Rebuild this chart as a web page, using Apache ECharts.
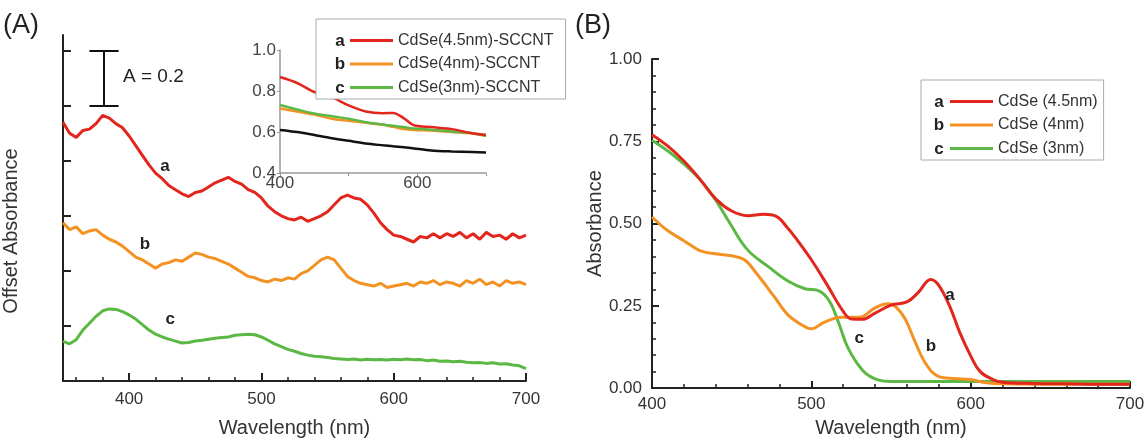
<!DOCTYPE html>
<html><head><meta charset="utf-8">
<script src="https://cdn.jsdelivr.net/npm/echarts@6/dist/echarts.min.js"></script>
<style>html,body{margin:0;padding:0;background:#fff}#c{width:1148px;height:443px}</style>
</head><body><div id="c"></div>
<script>
// ---------- Panel A (offset absorbance, noisy spectra) ----------
const wavelengthA = [350,355,360,365,370,375,380,385,390,395,400,405,410,415,420,425,430,435,440,445,450,455,460,465,470,475,480,485,490,495,500,505,510,515,520,525,530,535,540,545,550,555,560,565,570,575,580,585,590,595,600,605,610,615,620,625,630,635,640,645,650,655,660,665,670,675,680,685,690,695,700];
const offsetA = [.94,.90,.885,.91,.915,.935,.965,.955,.935,.92,.89,.855,.82,.785,.755,.735,.71,.695,.68,.67,.685,.69,.705,.72,.73,.74,.725,.715,.695,.685,.665,.635,.615,.60,.59,.585,.595,.58,.59,.60,.615,.64,.665,.675,.665,.66,.64,.61,.575,.55,.53,.525,.515,.505,.525,.52,.535,.52,.535,.525,.54,.52,.535,.515,.54,.525,.53,.515,.535,.52,.53];
const offsetB = [.575,.55,.56,.535,.545,.55,.53,.515,.505,.49,.47,.45,.44,.425,.41,.425,.43,.44,.435,.45,.465,.46,.45,.445,.435,.425,.41,.395,.38,.375,.365,.36,.37,.365,.375,.37,.39,.40,.42,.44,.45,.44,.41,.38,.365,.355,.35,.345,.355,.34,.345,.35,.355,.345,.36,.355,.365,.35,.36,.355,.345,.365,.355,.37,.35,.36,.345,.365,.355,.36,.35];
const offsetC = [.144,.135,.15,.185,.21,.235,.255,.262,.26,.252,.24,.225,.205,.185,.17,.16,.152,.145,.138,.14,.145,.148,.152,.155,.158,.16,.166,.168,.17,.168,.16,.148,.135,.125,.115,.108,.1,.094,.09,.088,.085,.082,.08,.078,.08,.076,.079,.077,.078,.076,.079,.077,.08,.077,.078,.074,.076,.072,.073,.07,.072,.068,.066,.067,.064,.066,.062,.063,.058,.055,.045];
const namesA = ['CdSe(4.5nm)-SCCNT','CdSe(4nm)-SCCNT','CdSe(3nm)-SCCNT'];
const xMajorA = [400,500,600,700];
const xMinorA = [360,380,420,440,460,480,520,540,560,580,620,640,660,680];
const yTicksA = [0.2,0.4,0.6,0.8,1.0,1.2];

// ---------- Inset ----------
const insetWavelength = [400,425,450,475,500,525,550,565,580,595,620,650,680,700];
const insetA = [.868,.839,.795,.77,.73,.70,.692,.693,.668,.633,.624,.614,.594,.585];
const insetB = [.715,.70,.685,.665,.655,.645,.635,.625,.615,.61,.607,.60,.593,.585];
const insetC = [.732,.71,.69,.677,.665,.648,.637,.63,.624,.617,.611,.603,.594,.58];
const insetBare = [.61,.60,.585,.57,.557,.544,.535,.53,.526,.52,.51,.505,.502,.50];
const insetXLabels = [400,600];
const insetXTicks = [400,500,600,700];

// ---------- Panel B (absorbance) ----------
const wlBa = [400,410,420,430,440,450,460,470,478,485,490,500,510,520,525,532,540,550,560,567,575,580,587,593,600,606,614,620,640,660,680,700];
const absBa = [.77,.735,.69,.635,.575,.538,.524,.528,.522,.487,.457,.39,.313,.233,.21,.209,.228,.252,.262,.29,.33,.312,.247,.171,.098,.05,.026,.018,.014,.013,.012,.012];
const wlBb = [400,410,420,430,440,450,458,466,477,485,494,500,508,519,530,540,548,553,559,565,572,580,590,600,610,620,650,700];
const absBb = [.52,.478,.448,.418,.408,.402,.39,.346,.276,.224,.192,.18,.2,.215,.215,.244,.256,.247,.209,.142,.073,.035,.029,.026,.016,.013,.012,.012];
const wlBc = [400,413,428,439,449,460,473,485,496,504,511,517,523,532,540,550,600,650,700];
const absBc = [.753,.709,.645,.578,.50,.42,.369,.326,.302,.297,.267,.20,.122,.055,.028,.02,.02,.02,.02];
const namesB = ['CdSe (4.5nm)','CdSe (4nm)','CdSe (3nm)'];

const RED = '#e3261d', ORANGE = '#f39223', GREEN = '#5cb845', BLACK = '#111';
const FONT = "'Liberation Sans', Arial, sans-serif";
const TXT = '#333';
const zip = (xs, ys) => xs.map((x, i) => [x, ys[i]]);

function letter(name, coord) {
  return {
    symbol: 'rect', symbolSize: 1, silent: true,
    itemStyle: { color: 'rgba(0,0,0,0)' },
    label: { show: true, position: 'inside', formatter: p => p.name, fontSize: 17, fontWeight: 'bold', color: '#222', fontFamily: FONT },
    data: [{ name: name, coord: coord }]
  };
}

const chart = echarts.init(document.getElementById('c'), null, { renderer: 'canvas' });
const axisLine = (c, w) => ({ show: true, lineStyle: { color: c, width: w } });

chart.setOption({
  animation: false,
  textStyle: { fontFamily: FONT },
  grid: [
    { left: 63, top: 35, width: 463, height: 350 },
    { left: 280, top: 50, width: 206, height: 123 },
    { left: 652, top: 59, width: 478, height: 343 }
  ],
  xAxis: [
    { gridIndex: 0, type: 'value', min: 350, max: 700, axisLine: axisLine('#222', 2),
      axisTick: { show: true, inside: true, length: 8, customValues: xMajorA, lineStyle: { color: '#222', width: 2 } },
      axisLabel: { customValues: xMajorA, fontSize: 17, color: TXT, margin: 10 },
      splitLine: { show: false },
      name: 'Wavelength (nm)', nameLocation: 'middle', nameGap: 37, nameTextStyle: { fontSize: 20, color: TXT } },
    { gridIndex: 0, type: 'value', min: 350, max: 700, position: 'bottom', axisLine: { show: false },
      axisTick: { show: true, inside: true, length: 4, customValues: xMinorA, lineStyle: { color: '#222', width: 1.5 } },
      axisLabel: { show: false }, splitLine: { show: false } },
    { gridIndex: 1, type: 'value', min: 400, max: 700, axisLine: axisLine('#999', 1.5),
      axisTick: { show: true, length: 3, customValues: insetXTicks, lineStyle: { color: '#999' } },
      axisLabel: { customValues: insetXLabels, fontSize: 17, color: '#444', margin: 2 },
      splitLine: { show: false } },
    { gridIndex: 2, type: 'value', min: 400, max: 700, interval: 100, axisLine: axisLine('#222', 2),
      axisTick: { show: true, inside: true, length: 7, lineStyle: { color: '#222', width: 2 } },
      minorTick: { show: true, splitNumber: 5, length: 4, lineStyle: { color: '#222', width: 1.5 } },
      axisLabel: { fontSize: 17, color: TXT, margin: 8 },
      splitLine: { show: false },
      name: 'Wavelength (nm)', nameLocation: 'middle', nameGap: 26, nameTextStyle: { fontSize: 20, color: TXT } }
  ],
  yAxis: [
    { gridIndex: 0, type: 'value', min: 0, max: 1.257, axisLine: axisLine('#222', 2),
      axisTick: { show: true, inside: true, length: 8, customValues: yTicksA, lineStyle: { color: '#222', width: 2 } },
      axisLabel: { show: false }, splitLine: { show: false },
      name: 'Offset Absorbance', nameLocation: 'middle', nameGap: 42,
      nameTextStyle: { fontSize: 20, color: TXT, padding: [0, 46, 0, 0] } },
    { gridIndex: 1, type: 'value', min: 0.4, max: 1.0, interval: 0.2, axisLine: axisLine('#999', 1.5),
      axisTick: { show: true, length: 3, lineStyle: { color: '#999' } },
      axisLabel: { fontSize: 17, color: '#444', margin: 4, formatter: v => v.toFixed(1) },
      splitLine: { show: false } },
    { gridIndex: 2, type: 'value', min: 0, max: 1, interval: 0.25, axisLine: axisLine('#222', 2),
      axisTick: { show: true, inside: true, length: 7, lineStyle: { color: '#222', width: 2 } },
      minorTick: { show: true, splitNumber: 5, length: 4, lineStyle: { color: '#222', width: 1.5 } },
      axisLabel: { fontSize: 17, color: TXT, margin: 10, formatter: v => v.toFixed(2) },
      splitLine: { show: false },
      name: 'Absorbance', nameLocation: 'middle', nameGap: 47, nameTextStyle: { fontSize: 20, color: TXT } }
  ],
  legend: [
    { data: namesA, orient: 'vertical', left: 316, top: 19, icon: 'rect', itemWidth: 43, itemHeight: 3, itemGap: 4.5,
      padding: [12, 12, 2, 34], borderColor: '#aaa', borderWidth: 1, backgroundColor: '#fff',
      textStyle: { fontSize: 16, color: TXT, lineHeight: 19, fontFamily: FONT } },
    { data: namesB, orient: 'vertical', left: 921, top: 80, icon: 'rect', itemWidth: 43, itemHeight: 3, itemGap: 4.5,
      padding: [12, 6, 2, 29], borderColor: '#aaa', borderWidth: 1, backgroundColor: '#fff',
      textStyle: { fontSize: 16, color: TXT, lineHeight: 19, fontFamily: FONT } }
  ],
  graphic: [
    { type: 'text', left: 3, top: 12, style: { text: '(A)', fontSize: 27, fill: '#222', fontFamily: FONT } },
    { type: 'text', left: 575, top: 12, style: { text: '(B)', fontSize: 27, fill: '#222', fontFamily: FONT } },
    { type: 'text', left: 123, top: 67, style: { text: 'A = 0.2', fontSize: 19, fill: '#222', fontFamily: FONT } },
    { type: 'text', x: 340, y: 41, style: { text: 'a', fontSize: 17, fontWeight: 'bold', fill: '#222', align: 'center', verticalAlign: 'middle', fontFamily: FONT }, z: 100 },
    { type: 'text', x: 340, y: 64.5, style: { text: 'b', fontSize: 17, fontWeight: 'bold', fill: '#222', align: 'center', verticalAlign: 'middle', fontFamily: FONT }, z: 100 },
    { type: 'text', x: 340, y: 88, style: { text: 'c', fontSize: 17, fontWeight: 'bold', fill: '#222', align: 'center', verticalAlign: 'middle', fontFamily: FONT }, z: 100 },
    { type: 'text', x: 939, y: 102, style: { text: 'a', fontSize: 17, fontWeight: 'bold', fill: '#222', align: 'center', verticalAlign: 'middle', fontFamily: FONT }, z: 100 },
    { type: 'text', x: 939, y: 125.5, style: { text: 'b', fontSize: 17, fontWeight: 'bold', fill: '#222', align: 'center', verticalAlign: 'middle', fontFamily: FONT }, z: 100 },
    { type: 'text', x: 939, y: 149, style: { text: 'c', fontSize: 17, fontWeight: 'bold', fill: '#222', align: 'center', verticalAlign: 'middle', fontFamily: FONT }, z: 100 }
  ],
  series: [
    { name: namesA[0], type: 'line', xAxisIndex: 0, yAxisIndex: 0, data: zip(wavelengthA, offsetA), showSymbol: false,
      lineStyle: { color: RED, width: 3 }, itemStyle: { color: RED },
      markPoint: letter('a', [427, 0.78]),
      markLine: { silent: true, symbol: 'none', label: { show: false }, lineStyle: { color: '#111', width: 2, type: 'solid' },
        data: [
          [{ coord: [381, 1.0] }, { coord: [381, 1.2] }],
          [{ coord: [370, 1.2] }, { coord: [392, 1.2] }],
          [{ coord: [370, 1.0] }, { coord: [392, 1.0] }]
        ] } },
    { name: namesA[1], type: 'line', xAxisIndex: 0, yAxisIndex: 0, data: zip(wavelengthA, offsetB), showSymbol: false,
      lineStyle: { color: ORANGE, width: 3 }, itemStyle: { color: ORANGE }, markPoint: letter('b', [412, 0.495]) },
    { name: namesA[2], type: 'line', xAxisIndex: 0, yAxisIndex: 0, data: zip(wavelengthA, offsetC), showSymbol: false,
      lineStyle: { color: GREEN, width: 3 }, itemStyle: { color: GREEN }, markPoint: letter('c', [431, 0.223]) },

    { name: 'inset-bare', type: 'line', xAxisIndex: 2, yAxisIndex: 1, data: zip(insetWavelength, insetBare), showSymbol: false, smooth: 0.3,
      lineStyle: { color: BLACK, width: 2.5 } },
    { name: 'inset-b', type: 'line', xAxisIndex: 2, yAxisIndex: 1, data: zip(insetWavelength, insetB), showSymbol: false, smooth: 0.3,
      lineStyle: { color: ORANGE, width: 2.5 } },
    { name: 'inset-c', type: 'line', xAxisIndex: 2, yAxisIndex: 1, data: zip(insetWavelength, insetC), showSymbol: false, smooth: 0.3,
      lineStyle: { color: GREEN, width: 2.5 } },
    { name: 'inset-a', type: 'line', xAxisIndex: 2, yAxisIndex: 1, data: zip(insetWavelength, insetA), showSymbol: false, smooth: 0.3,
      lineStyle: { color: RED, width: 2.5 } },

    { name: namesB[2], type: 'line', xAxisIndex: 3, yAxisIndex: 2, data: zip(wlBc, absBc), showSymbol: false, smooth: 0.4,
      lineStyle: { color: GREEN, width: 3 }, itemStyle: { color: GREEN }, markPoint: letter('c', [530, 0.151]) },
    { name: namesB[1], type: 'line', xAxisIndex: 3, yAxisIndex: 2, data: zip(wlBb, absBb), showSymbol: false, smooth: 0.4,
      lineStyle: { color: ORANGE, width: 3 }, itemStyle: { color: ORANGE }, markPoint: letter('b', [575, 0.128]) },
    { name: namesB[0], type: 'line', xAxisIndex: 3, yAxisIndex: 2, data: zip(wlBa, absBa), showSymbol: false, smooth: 0.4,
      lineStyle: { color: RED, width: 3 }, itemStyle: { color: RED }, markPoint: letter('a', [587, 0.282]) }
  ]
});
</script></body></html>
